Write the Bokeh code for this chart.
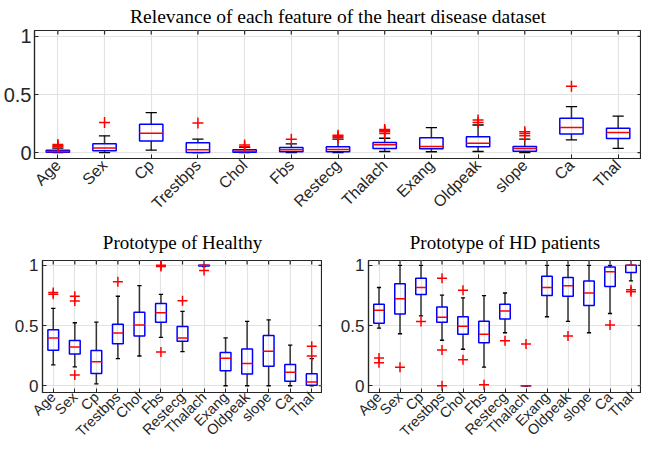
import math
from bokeh.plotting import figure
from bokeh.models import Range1d, FixedTicker, NumeralTickFormatter, Spacer
from bokeh.layouts import column, row
from bokeh.embed import file_html
from bokeh.resources import INLINE

features = ["Age", "Sex", "Cp", "Trestbps", "Chol", "Fbs", "Restecg",
            "Thalach", "Exang", "Oldpeak", "slope", "Ca", "Thal"]
y_ticks = [0, 0.5, 1]

# Relevance of each feature
rel_low = [0.0, 0.0, 0.022, 0.0, 0.0, 0.0, 0.0, 0.01, 0.008, 0.01, 0.0, 0.11, 0.037]
rel_q1 = [0.003, 0.017, 0.10, 0.002, 0.004, 0.008, 0.008, 0.037, 0.034, 0.05, 0.013, 0.16, 0.122]
rel_med = [0.01, 0.04, 0.168, 0.026, 0.013, 0.025, 0.028, 0.068, 0.054, 0.08, 0.037, 0.216, 0.173]
rel_q3 = [0.02, 0.076, 0.245, 0.085, 0.026, 0.045, 0.05, 0.088, 0.128, 0.136, 0.054, 0.295, 0.21]
rel_high = [0.04, 0.145, 0.345, 0.116, 0.045, 0.075, 0.116, 0.124, 0.215, 0.238, 0.116, 0.395, 0.315]
rel_out = [[0.05, 0.06, 0.07], [0.26], [], [0.255], [0.05, 0.065], [0.115],
           [0.13, 0.14, 0.15], [0.165, 0.18, 0.19, 0.2], [], [0.26, 0.28],
           [0.145, 0.165, 0.18], [0.57], []]

# Prototype of Healthy
hl_low = [0.174, 0.156, 0.016, 0.225, 0.247, 0.402, 0.284, 0.99, 0.0, 0.0, 0.0, 0.0, 0.0]
hl_q1 = [0.295, 0.263, 0.102, 0.349, 0.413, 0.528, 0.37, 0.995, 0.124, 0.097, 0.161, 0.038, 0.005]
hl_med = [0.397, 0.322, 0.199, 0.437, 0.504, 0.606, 0.397, 1.0, 0.228, 0.185, 0.287, 0.113, 0.032]
hl_q3 = [0.466, 0.375, 0.292, 0.51, 0.611, 0.683, 0.493, 1.0, 0.276, 0.306, 0.418, 0.177, 0.1]
hl_high = [0.643, 0.523, 0.528, 0.743, 0.831, 0.759, 0.617, 1.0, 0.397, 0.534, 0.547, 0.338, 0.225]
hl_out = [[0.76, 0.775], [0.743, 0.703, 0.09], [], [0.863], [], [0.99, 1.0, 0.281],
          [0.705], [0.957], [], [], [], [], [0.327, 0.247]]

# Prototype of HD patients
hd_low = [0.478, 0.432, 0.581, 0.378, 0.303, 0.154, 0.44, 0.0, 0.573, 0.535, 0.44, 0.6, 0.87]
hd_q1 = [0.519, 0.595, 0.757, 0.527, 0.427, 0.357, 0.554, 0.0, 0.749, 0.744, 0.667, 0.825, 0.94]
hd_med = [0.627, 0.722, 0.816, 0.568, 0.495, 0.427, 0.62, 0.0, 0.816, 0.83, 0.77, 0.946, 1.0]
hd_q3 = [0.676, 0.846, 0.892, 0.654, 0.573, 0.535, 0.676, 0.0, 0.91, 0.898, 0.87, 0.987, 1.0]
hd_high = [0.816, 1.0, 1.0, 0.752, 0.73, 0.749, 0.77, 0.0, 1.0, 1.0, 1.0, 1.0, 1.0]
hd_out = [[0.23, 0.19], [0.154], [0.533], [0.892, 0.297, 0.0], [0.792, 0.216], [0.008],
          [0.373], [0.346], [], [0.414], [], [0.505], [0.797, 0.78]]

AX = "#262626"


def panel(title, low, q1, med, q3, high, outs, width, height, yr, ylab_size,
          y_standoff, xlab_size, x_standoff, title_size, title_standoff, cap_w,
          mark_size, tick_dx, tick_dy):
    xs = list(range(1, len(features) + 1))
    x0, x1 = 0.5, len(features) + 0.5
    p = figure(width=width, height=height, x_range=Range1d(x0, x1),
               y_range=Range1d(*yr), output_backend="svg", toolbar_location=None,
               min_border_left=0, min_border_right=0, min_border_top=0,
               min_border_bottom=0)
    p.title.text = title
    p.title.align = "center"
    p.title.text_font = "Liberation Serif"
    p.title.text_font_style = "normal"
    p.title.text_font_size = title_size
    p.title.text_color = "black"
    p.title.standoff = title_standoff
    p.outline_line_color = AX
    p.outline_line_width = 1.2
    p.background_fill_color = "white"

    p.xaxis.ticker = FixedTicker(ticks=xs)
    p.xaxis.major_label_overrides = {i + 1: f for i, f in enumerate(features)}
    p.xaxis.major_label_orientation = math.pi / 4
    p.xaxis.major_label_text_font_size = xlab_size
    p.xaxis.major_label_standoff = x_standoff
    p.yaxis.ticker = FixedTicker(ticks=y_ticks)
    p.yaxis.formatter = NumeralTickFormatter(format="0.[0]")
    p.yaxis.major_label_text_font_size = ylab_size
    p.yaxis.major_label_standoff = y_standoff
    for ax in p.axis:
        ax.axis_line_color = AX
        ax.axis_line_width = 1.2
        ax.major_tick_line_color = AX
        ax.major_tick_in = 4
        ax.major_tick_out = 0
        ax.minor_tick_line_color = None
        ax.major_label_text_color = AX
        ax.major_label_text_font = "Liberation Sans"
    p.xgrid.grid_line_color = "#e3e3e3"
    p.ygrid.grid_line_color = "#e3e3e3"
    p.xgrid.grid_line_width = 1.2
    p.ygrid.grid_line_width = 1.2

    # inward ticks on top and right frame edges (box on)
    n = len(xs)
    p.segment(x0=xs, y0=[yr[1]] * n, x1=xs, y1=[yr[1] - tick_dy] * n,
              line_color=AX, line_width=1.2)
    p.segment(x0=[x1] * len(y_ticks), y0=y_ticks, x1=[x1 - tick_dx] * len(y_ticks),
              y1=y_ticks, line_color=AX, line_width=1.2)

    hw = 0.25
    # whiskers
    p.segment(x0=xs, y0=q3, x1=xs, y1=high, line_color="#333333", line_width=1.5)
    p.segment(x0=xs, y0=low, x1=xs, y1=q1, line_color="#333333", line_width=1.5)
    # caps
    p.segment(x0=[x - cap_w for x in xs], y0=high, x1=[x + cap_w for x in xs], y1=high,
              line_color="black", line_width=1.3)
    p.segment(x0=[x - cap_w for x in xs], y0=low, x1=[x + cap_w for x in xs], y1=low,
              line_color="black", line_width=1.3)
    # boxes
    p.quad(left=[x - hw for x in xs], right=[x + hw for x in xs], bottom=q1, top=q3,
           fill_color=None, line_color="#0000ff", line_width=1.5)
    # medians
    p.segment(x0=[x - hw for x in xs], y0=med, x1=[x + hw for x in xs], y1=med,
              line_color="#ff0000", line_width=1.5)
    # outliers
    ox, oy = [], []
    for x, vals in zip(xs, outs):
        for v in vals:
            ox.append(x)
            oy.append(v)
    p.scatter(x=ox, y=oy, marker="cross", size=mark_size, line_color="#ff0000",
              line_width=1.5)
    return p


top = panel("Relevance of each feature of the heart disease dataset",
            rel_low, rel_q1, rel_med, rel_q3, rel_high, rel_out,
            641, 221, (-0.05, 1.05), "20px", 3, "16px", 4, "19.5px", 7,
            0.12, 11, 0.085, 0.035)
bl = panel("Prototype of Healthy", hl_low, hl_q1, hl_med, hl_q3, hl_high, hl_out,
           311, 227, (-0.056, 1.04), "17px", 4, "14.5px", 2, "19px", 16,
           0.1, 10, 0.18, 0.034)
br = panel("Prototype of HD patients", hd_low, hd_q1, hd_med, hd_q3, hd_high, hd_out,
           304, 227, (-0.056, 1.04), "17px", 4, "14.5px", 2, "19px", 16,
           0.1, 10, 0.18, 0.034)

layout = column(top, row(Spacer(width=11, height=227), bl,
                         Spacer(width=15, height=227), br))
open("out.html", "w").write(file_html(layout, INLINE))
